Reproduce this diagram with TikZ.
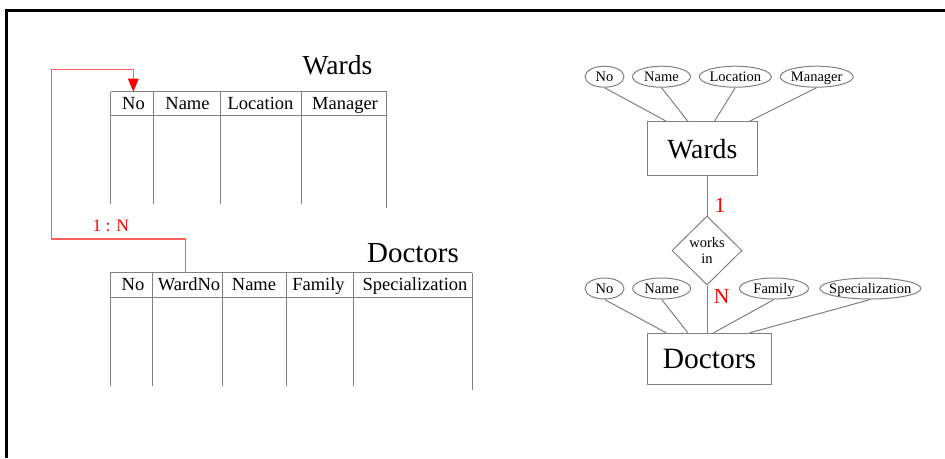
\documentclass[tikz,border=0pt]{standalone}
\usepackage{fontspec}
\setmainfont{Liberation Serif}
\usetikzlibrary{shapes.geometric,arrows.meta}
\definecolor{fkline}{RGB}{255,95,95}

\tikzset{
  grid/.style={draw=black!50, line width=1pt},
  colhead/.style={anchor=base, inner sep=0pt, font=\fontsize{18.5}{20}\selectfont},
  tabtitle/.style={anchor=base, inner sep=0pt},
  attr/.style={ellipse, draw=black!50, line width=1pt, minimum height=21pt, inner sep=0pt},
  entity/.style={rectangle, draw=black!50, line width=1pt, inner sep=0pt},
  rel/.style={diamond, draw=black!50, line width=1pt, inner sep=0pt, align=center,
    font=\fontsize{14.5}{16}\selectfont},
  link/.style={draw=black!50, line width=1pt},
  card/.style={text=red, inner sep=0pt, font=\fontsize{21.5}{22}\selectfont},
  fk/.style={draw=fkline, line width=1.3pt, -{Triangle[length=13pt,width=10.5pt,color=red]}},
  every label/.style={font=\fontsize{14.5}{16}\selectfont, inner sep=0pt, text height=10pt, text depth=0pt}
}

\begin{document}
\begin{tikzpicture}[x=1pt,y=-1pt]
\useasboundingbox (0,0) rectangle (945,458);
% frame
\draw[line width=2.7pt] (6.3,458) -- (6.3,10.7) -- (945,10.7);

% Wards table
\node[tabtitle, font=\fontsize{27.5}{30}\selectfont] (wardstitle) at (337.5,74) {Wards};
\draw[grid] (110.7,91.7) -- (386.7,91.7);
\draw[grid] (110.7,115.7) -- (386.7,115.7);
\draw[grid] (110.7,91.7) -- (110.7,204.3);
\draw[grid] (153.3,91.7) -- (153.3,204.3);
\draw[grid] (220.3,91.7) -- (220.3,204.3);
\draw[grid] (301,91.7) -- (301,204.3);
\draw[grid] (386.7,91.7) -- (386.7,208);
\node[colhead] (wno) at (133.5,109.3) {No};
\node[colhead] (wname) at (187.5,109.3) {Name};
\node[colhead] (wloc) at (260.5,109.3) {Location};
\node[colhead] (wman) at (345,109.3) {Manager};

% Doctors table
\node[tabtitle, font=\fontsize{29}{31}\selectfont] (docstitle) at (413,262.3) {Doctors};
\draw[grid] (110,272.7) -- (472.3,272.7);
\draw[grid] (110,297.3) -- (472.3,297.3);
\draw[grid] (110,272.7) -- (110,385.7);
\draw[grid] (152.7,272.7) -- (152.7,385.7);
\draw[grid] (222.3,272.7) -- (222.3,385.7);
\draw[grid] (286.3,272.7) -- (286.3,385.7);
\draw[grid] (353.7,272.7) -- (353.7,385.7);
\draw[grid] (472.3,272.7) -- (472.3,390);
\node[colhead] (dno) at (133,290) {No};
\node[colhead] (dwardno) at (189,290) {WardNo};
\node[colhead] (dname) at (254,290) {Name};
\node[colhead] (dfam) at (318.5,290) {Family};
\node[colhead] (dspec) at (415,290) {Specialization};

% foreign key
\coordinate (fkstart) at (185.7,272.7);
\coordinate (fkend) at (133.3,91.7);
\draw[fk] (fkstart) |- (51.7,239) -- (51.7,69.3) -| (fkend);
\node[anchor=base, inner sep=0pt, text=red, font=\fontsize{17.5}{19}\selectfont] (fklabel) at (110.8,231.7) {1 : N};

% ER diagram
\node[entity, minimum width=110pt, minimum height=54pt, font=\fontsize{27.7}{30}\selectfont] (wards) at (702.3,148.7) {Wards};
\node[entity, minimum width=124.3pt, minimum height=50.7pt, font=\fontsize{29.5}{31}\selectfont] (doctors) at (709.5,358.7) {Doctors};
\node[rel, minimum width=70pt, minimum height=69pt] (worksin) at (707,250.5) {works\\in};

\node[attr, minimum width=39pt, label=center:No] (ewno) at (604.5,76.7) {};
\node[attr, minimum width=58pt, label=center:Name] (ewname) at (661.5,76.7) {};
\node[attr, minimum width=72pt, label=center:Location] (ewloc) at (735.3,76.7) {};
\node[attr, minimum width=73pt, label=center:Manager] (ewman) at (816.7,76.7) {};

\node[attr, minimum width=39pt, label=center:No] (edno) at (604.5,288.5) {};
\node[attr, minimum width=58pt, label=center:Name] (edname) at (661.7,288.5) {};
\node[attr, minimum width=69pt, label=center:Family] (edfam) at (774,288.5) {};
\node[attr, minimum width=101pt, label=center:Specialization] (edspec) at (870.3,288.5) {};

\draw[link] (ewno.south) -- ([xshift=19.4pt]wards.north west);
\draw[link] (ewname.south) -- ([xshift=41pt]wards.north west);
\draw[link] (ewloc.south) -- ([xshift=67.7pt]wards.north west);
\draw[link] (ewman.south) -- ([xshift=102.7pt]wards.north west);

\draw[link] (edno.south) -- ([xshift=19.4pt]doctors.north west);
\draw[link] (edname.south) -- ([xshift=41pt]doctors.north west);
\draw[link] (edfam.south) -- ([xshift=66.7pt]doctors.north west);
\draw[link] (edspec.south) -- ([xshift=102.7pt]doctors.north west);

\draw[link] (worksin.north |- wards.south) -- (worksin.north);
\draw[link] (worksin.south) -- (worksin.south |- doctors.north);
\node[card] (card1) at (720,205.5) {1};
\node[card] (cardn) at (721.7,296) {N};
\end{tikzpicture}
\end{document}
